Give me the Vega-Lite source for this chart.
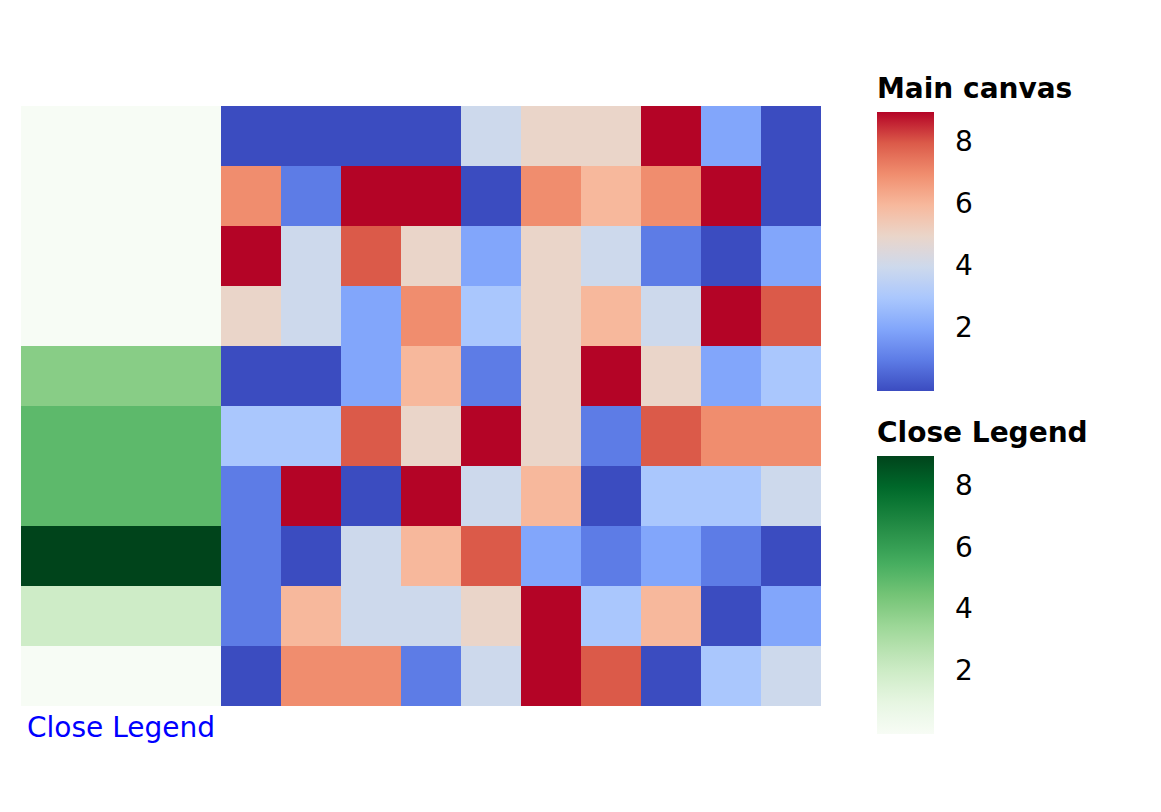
{
  "$schema": "https://vega.github.io/schema/vega-lite/v6.json",
  "width": 800,
  "height": 600,
  "autosize": {"type": "none"},
  "padding": {"left": 21, "top": 106, "right": 340, "bottom": 106},
  "background": "white",
  "config": {"font": "DejaVu Sans", "view": {"stroke": null}},
  "datasets": {
    "main": [
      {"row": 0, "col": 0, "value": 0}, {"row": 0, "col": 1, "value": 0}, {"row": 0, "col": 2, "value": 0}, {"row": 0, "col": 3, "value": 0}, {"row": 0, "col": 4, "value": 4}, {"row": 0, "col": 5, "value": 5}, {"row": 0, "col": 6, "value": 5}, {"row": 0, "col": 7, "value": 9}, {"row": 0, "col": 8, "value": 2}, {"row": 0, "col": 9, "value": 0},
      {"row": 1, "col": 0, "value": 7}, {"row": 1, "col": 1, "value": 1}, {"row": 1, "col": 2, "value": 9}, {"row": 1, "col": 3, "value": 9}, {"row": 1, "col": 4, "value": 0}, {"row": 1, "col": 5, "value": 7}, {"row": 1, "col": 6, "value": 6}, {"row": 1, "col": 7, "value": 7}, {"row": 1, "col": 8, "value": 9}, {"row": 1, "col": 9, "value": 0},
      {"row": 2, "col": 0, "value": 9}, {"row": 2, "col": 1, "value": 4}, {"row": 2, "col": 2, "value": 8}, {"row": 2, "col": 3, "value": 5}, {"row": 2, "col": 4, "value": 2}, {"row": 2, "col": 5, "value": 5}, {"row": 2, "col": 6, "value": 4}, {"row": 2, "col": 7, "value": 1}, {"row": 2, "col": 8, "value": 0}, {"row": 2, "col": 9, "value": 2},
      {"row": 3, "col": 0, "value": 5}, {"row": 3, "col": 1, "value": 4}, {"row": 3, "col": 2, "value": 2}, {"row": 3, "col": 3, "value": 7}, {"row": 3, "col": 4, "value": 3}, {"row": 3, "col": 5, "value": 5}, {"row": 3, "col": 6, "value": 6}, {"row": 3, "col": 7, "value": 4}, {"row": 3, "col": 8, "value": 9}, {"row": 3, "col": 9, "value": 8},
      {"row": 4, "col": 0, "value": 0}, {"row": 4, "col": 1, "value": 0}, {"row": 4, "col": 2, "value": 2}, {"row": 4, "col": 3, "value": 6}, {"row": 4, "col": 4, "value": 1}, {"row": 4, "col": 5, "value": 5}, {"row": 4, "col": 6, "value": 9}, {"row": 4, "col": 7, "value": 5}, {"row": 4, "col": 8, "value": 2}, {"row": 4, "col": 9, "value": 3},
      {"row": 5, "col": 0, "value": 3}, {"row": 5, "col": 1, "value": 3}, {"row": 5, "col": 2, "value": 8}, {"row": 5, "col": 3, "value": 5}, {"row": 5, "col": 4, "value": 9}, {"row": 5, "col": 5, "value": 5}, {"row": 5, "col": 6, "value": 1}, {"row": 5, "col": 7, "value": 8}, {"row": 5, "col": 8, "value": 7}, {"row": 5, "col": 9, "value": 7},
      {"row": 6, "col": 0, "value": 1}, {"row": 6, "col": 1, "value": 9}, {"row": 6, "col": 2, "value": 0}, {"row": 6, "col": 3, "value": 9}, {"row": 6, "col": 4, "value": 4}, {"row": 6, "col": 5, "value": 6}, {"row": 6, "col": 6, "value": 0}, {"row": 6, "col": 7, "value": 3}, {"row": 6, "col": 8, "value": 3}, {"row": 6, "col": 9, "value": 4},
      {"row": 7, "col": 0, "value": 1}, {"row": 7, "col": 1, "value": 0}, {"row": 7, "col": 2, "value": 4}, {"row": 7, "col": 3, "value": 6}, {"row": 7, "col": 4, "value": 8}, {"row": 7, "col": 5, "value": 2}, {"row": 7, "col": 6, "value": 1}, {"row": 7, "col": 7, "value": 2}, {"row": 7, "col": 8, "value": 1}, {"row": 7, "col": 9, "value": 0},
      {"row": 8, "col": 0, "value": 1}, {"row": 8, "col": 1, "value": 6}, {"row": 8, "col": 2, "value": 4}, {"row": 8, "col": 3, "value": 4}, {"row": 8, "col": 4, "value": 5}, {"row": 8, "col": 5, "value": 9}, {"row": 8, "col": 6, "value": 3}, {"row": 8, "col": 7, "value": 6}, {"row": 8, "col": 8, "value": 0}, {"row": 8, "col": 9, "value": 2},
      {"row": 9, "col": 0, "value": 0}, {"row": 9, "col": 1, "value": 7}, {"row": 9, "col": 2, "value": 7}, {"row": 9, "col": 3, "value": 1}, {"row": 9, "col": 4, "value": 4}, {"row": 9, "col": 5, "value": 9}, {"row": 9, "col": 6, "value": 8}, {"row": 9, "col": 7, "value": 0}, {"row": 9, "col": 8, "value": 3}, {"row": 9, "col": 9, "value": 4}
    ],
    "ann": [
      {"row": 0, "label": "Close Legend", "close": 0},
      {"row": 1, "label": "Close Legend", "close": 0},
      {"row": 2, "label": "Close Legend", "close": 0},
      {"row": 3, "label": "Close Legend", "close": 0},
      {"row": 4, "label": "Close Legend", "close": 4},
      {"row": 5, "label": "Close Legend", "close": 5},
      {"row": 6, "label": "Close Legend", "close": 5},
      {"row": 7, "label": "Close Legend", "close": 9},
      {"row": 8, "label": "Close Legend", "close": 2},
      {"row": 9, "label": "Close Legend", "close": 0}
    ]
  },
  "layer": [
    {
      "data": {"name": "main"},
      "mark": {"type": "rect", "strokeWidth": 0},
      "encoding": {
        "x": {"field": "col", "type": "ordinal", "scale": {"range": [200, 800], "paddingInner": 0, "paddingOuter": 0}, "axis": null},
        "y": {"field": "row", "type": "ordinal", "scale": {"paddingInner": 0, "paddingOuter": 0}, "axis": null},
        "color": {
          "field": "value", "type": "quantitative",
          "scale": {
            "domain": [0, 1, 2, 3, 4, 5, 6, 7, 8, 9],
            "range": ["#3b4cc0", "#5d7ce6", "#82a6fb", "#aac7fd", "#cdd9ec", "#ead5c9", "#f7b89c", "#f08d6e", "#db5a49", "#b40426"],
            "interpolate": "rgb"
          },
          "legend": {
            "title": "Main canvas", "orient": "none", "legendX": 856, "legendY": -30,
            "direction": "vertical", "gradientLength": 279, "gradientThickness": 57,
            "gradientStrokeWidth": 0, "titleFontSize": 28, "titleFontWeight": "bold", "titleColor": "black",
            "titlePadding": 8, "labelFontSize": 28, "labelColor": "black", "labelOffset": 21,
            "values": [2, 4, 6, 8], "labelOverlap": false, "titleLimit": 400
          }
        }
      }
    },
    {
      "data": {"name": "ann"},
      "mark": {"type": "rect", "strokeWidth": 0},
      "encoding": {
        "x": {"field": "label", "type": "nominal", "scale": {"range": [0, 200], "paddingInner": 0, "paddingOuter": 0},
          "axis": {"orient": "bottom", "title": null, "ticks": false, "domain": false, "labelAngle": 0, "labelColor": "blue", "labelFontSize": 28, "labelPadding": 8, "labelLimit": 400}},
        "y": {"field": "row", "type": "ordinal", "axis": null},
        "color": {
          "field": "close", "type": "quantitative",
          "scale": {
            "domain": [0, 1.125, 2.25, 3.375, 4.5, 5.625, 6.75, 7.875, 9],
            "range": ["#f7fcf5", "#e5f5e0", "#c7e9c0", "#a1d99b", "#74c476", "#41ab5d", "#238b45", "#006d2c", "#00441b"],
            "interpolate": "rgb"
          },
          "legend": {
            "title": "Close Legend", "orient": "none", "legendX": 856, "legendY": 314,
            "direction": "vertical", "gradientLength": 278, "gradientThickness": 57,
            "gradientStrokeWidth": 0, "titleFontSize": 28, "titleFontWeight": "bold", "titleColor": "black",
            "titlePadding": 8, "labelFontSize": 28, "labelColor": "black", "labelOffset": 21,
            "values": [2, 4, 6, 8], "labelOverlap": false, "titleLimit": 400
          }
        }
      }
    }
  ],
  "resolve": {"scale": {"x": "independent", "color": "independent"}, "axis": {"x": "independent"}}
}
